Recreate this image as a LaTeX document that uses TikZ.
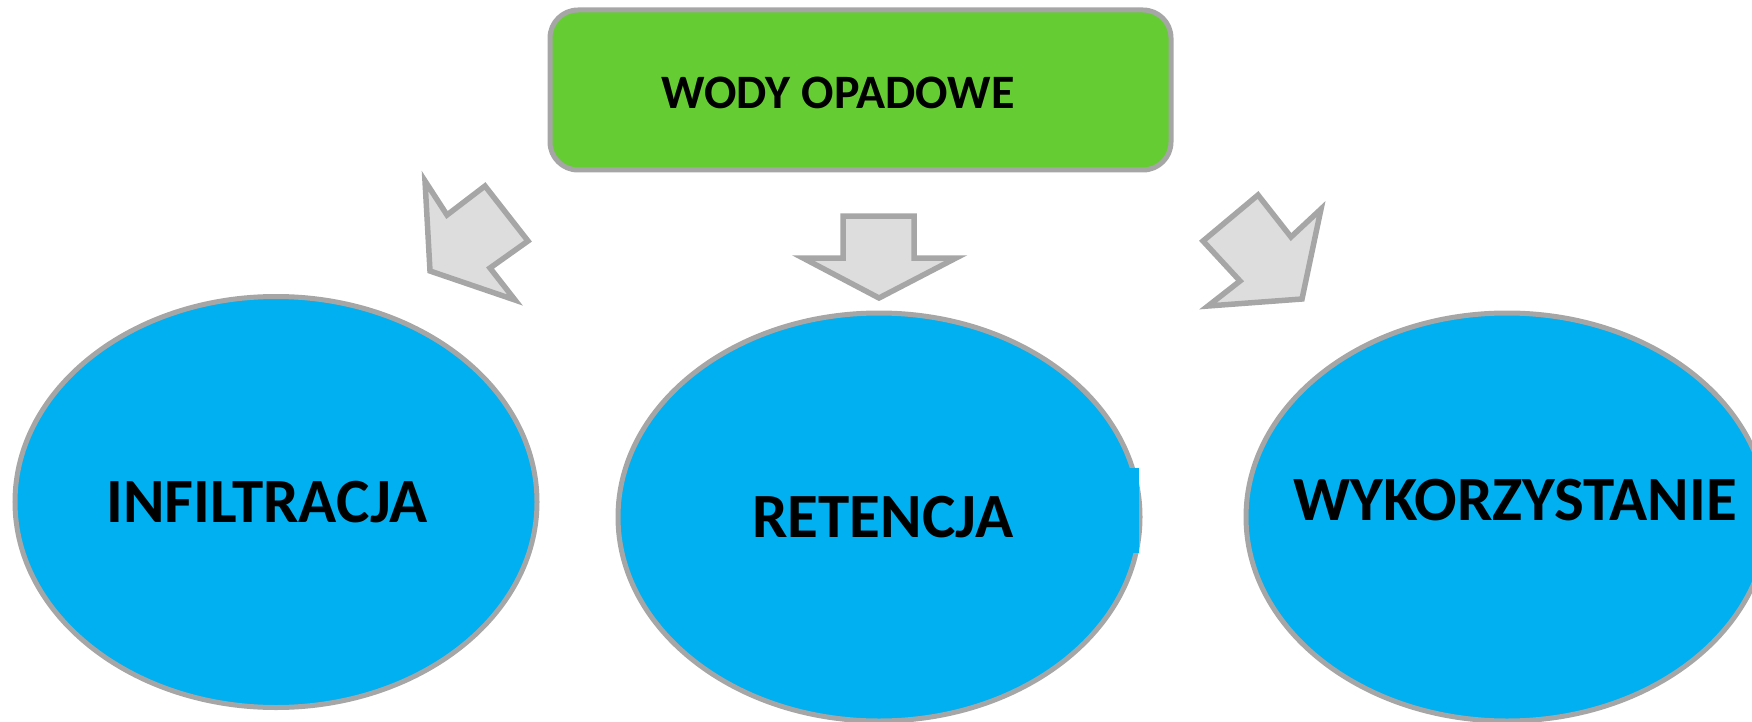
\documentclass[tikz,border=0pt]{standalone}
\usepackage{fontspec}
\setmainfont{Carlito}
\usetikzlibrary{shapes.geometric}
\definecolor{boxgreen}{HTML}{66CC33}
\definecolor{ellblue}{HTML}{00B0F0}
\definecolor{edgegray}{HTML}{A6A6A6}
\definecolor{arrowfill}{HTML}{DDDDDD}
\tikzset{
  oval/.style={ellipse, draw=edgegray, line width=5pt, fill=ellblue, inner sep=0pt, minimum width=522pt},
  lbl/.style={font=\fontsize{63}{70}\selectfont\bfseries, inner sep=0pt, text=black},
  toplbl/.style={font=\fontsize{48}{54}\selectfont\bfseries, inner sep=0pt, text=black},
  blockarrow/.style={draw=edgegray, fill=arrowfill, line width=5.5pt, line join=miter},
  topbox/.style={draw=edgegray, fill=boxgreen, line width=5pt, rounded corners=28pt}
}
\begin{document}
\begin{tikzpicture}[x=1pt, y=-1pt]
\useasboundingbox (0,0) rectangle (1752,722);
\clip (0,0) rectangle (1752,722);
% top box
\draw[topbox] (550,10) rectangle (1171,170);
\node[toplbl] (wody) at (838,93) {WODY OPADOWE};
% ellipses
\node[oval, minimum height=411pt] (e1) at (276,502) {};
\node[oval, minimum height=408pt] (e2) at (879,517) {};
\node[oval, minimum height=408pt] (e3) at (1507,517) {};
\fill[ellblue] (1127,468) rectangle (1139,553);
\node[lbl] (t1) at (267,502) {INFILTRACJA};
\node[lbl] (t2) at (883,517) {RETENCJA};
\node[lbl] (t3) at (1515,500) {WYKORZYSTANIE};
% block arrows
\draw[blockarrow] (425,181) -- (447,215) -- (485,186) -- (528,241) -- (490,268) -- (515,300) -- (430,271) -- cycle;
\draw[blockarrow] (843,216) -- (914,216) -- (914,258) -- (956,258) -- (879,298) -- (803,258) -- (843,258) -- cycle;
\draw[blockarrow] (1203,241) -- (1258,195) -- (1291,237) -- (1321,209) -- (1302,299) -- (1208,306) -- (1240,281) -- cycle;
\end{tikzpicture}
\end{document}
